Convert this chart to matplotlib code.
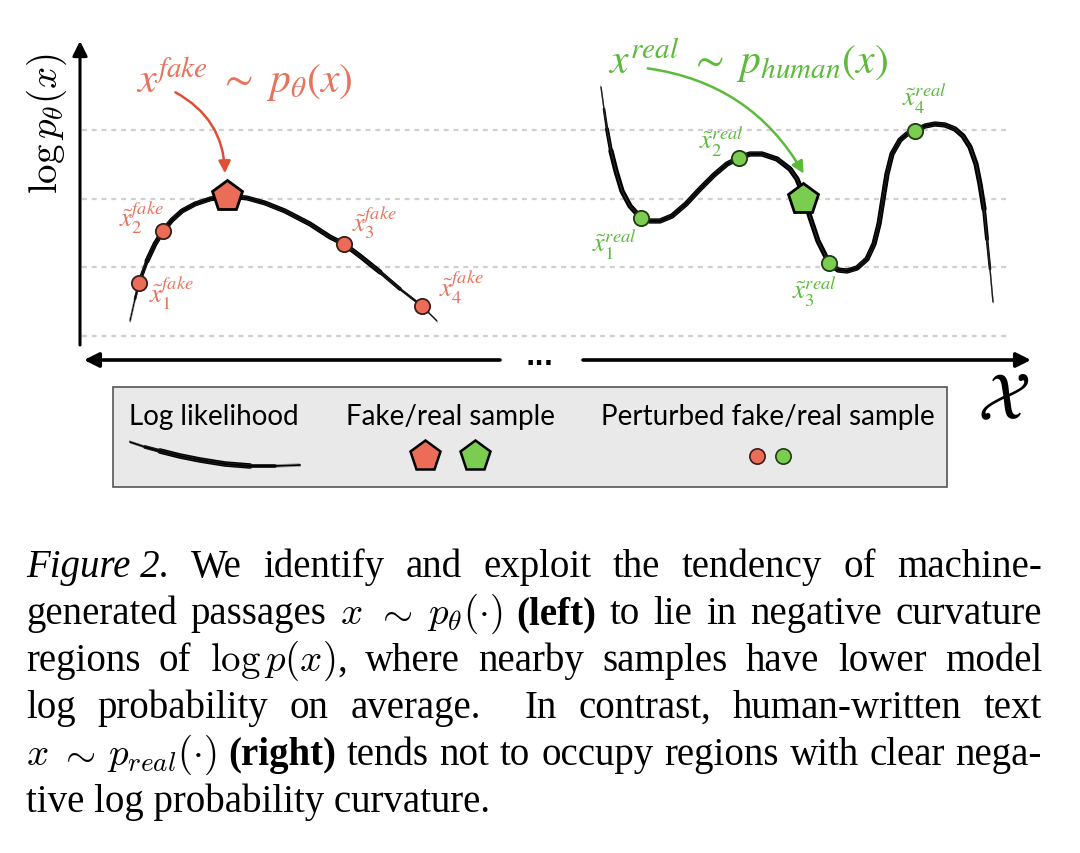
import numpy as np
import matplotlib.pyplot as plt
from matplotlib.patches import Rectangle, FancyArrowPatch

# Read values (figure pixel coordinates, y grows downward)
grid_y = [131, 200, 268, 337]

left_x = [130, 135, 139, 147, 155, 163, 172, 182, 195, 210, 227, 247, 265, 285,
          310, 330, 344, 360, 380, 400, 422, 437]
left_y = [322, 300, 284, 262, 245, 232, 221, 212, 205, 200, 197, 199, 204, 212,
          225, 238, 245, 257, 273, 290, 307, 322]

right_x = [601, 604, 607, 611, 616, 622, 630, 641, 650, 660, 672, 686, 700, 714,
           727, 739, 750, 762, 777, 790, 797, 803, 810, 818, 829, 838, 847, 857,
           867, 874, 879, 883, 887, 892, 900, 907, 915, 925, 935, 945, 955, 963,
           970, 976, 980, 984, 987, 990, 993]
right_y = [88, 110, 130, 152, 172, 192, 207, 219, 222, 222, 217, 205, 190, 176,
           165, 159, 155, 155, 160, 170, 180, 195, 218, 242, 264, 271, 272, 269,
           260, 245, 225, 200, 175, 155, 141, 135, 132, 127, 125, 126, 130, 137,
           148, 165, 185, 210, 240, 270, 303]

fake_pts_x = [139, 163, 344, 422]
fake_pts_y = [284, 232, 245, 307]
fake_sample = (227, 197)
real_pts_x = [641, 739, 829, 915]
real_pts_y = [219, 159, 264, 132]
real_sample = (803, 200)

fake_lbl_x = [149, 119, 352, 439]
fake_lbl_y = [303, 227, 232, 297]
real_lbl_x = [592, 699, 792, 902]
real_lbl_y = [253, 150, 300, 107]

legend_stroke_x = [130, 145, 160, 180, 200, 225, 250, 275, 300]
legend_stroke_y = [443, 448, 452, 457, 461, 465, 467, 467, 466]
legend_labels = ["Log likelihood", "Fake/real sample", "Perturbed fake/real sample"]
legend_label_x = [214, 451, 768]

caption = [
    "_Figure~2._ We identify and exploit the tendency of machine-",
    r"generated passages $x$ $\sim$ $p_\theta(\cdot)$ **(left)** to lie in negative curvature",
    r"regions of $\log{p}(x)$, where nearby samples have lower model",
    "log probability on average.  In contrast, human-written text",
    r"$x$ $\sim$ $p_{real}(\cdot)$ **(right)** tends not to occupy regions with clear nega-",
    "tive log probability curvature.",
]

FAKE = '#ec6d57'
FAKE_TXT = '#e8735d'
FAKE_ARROW = '#de4f38'
REAL = '#7bcd51'
REAL_TXT = '#5cba3b'
GRID = '#d0d0d0'

plt.rcParams['font.family'] = ['Liberation Serif', 'DejaVu Serif']

fig = plt.figure(figsize=(10.8, 8.54), dpi=100)
ax = fig.add_axes([0, 0, 1, 1])
ax.set_xlim(0, 1080)
ax.set_ylim(854, 0)
ax.axis('off')


def brush(xs, ys, lw=3.6, steps=4, z=3):
    # layered strokes: thin at the tips, full width in the body, plus scratchy offsets
    xs = np.asarray(xs, float)
    ys = np.asarray(ys, float)
    n = len(xs)
    kw = dict(color='black', solid_capstyle='round', solid_joinstyle='round', zorder=z)
    for k in range(steps):
        if n - 2 * k < 2:
            break
        ax.plot(xs[k:n - k], ys[k:n - k], lw=lw * (k + 1) / steps, **kw)
    for off in (-1.3, 1.3):
        ax.plot(xs + off * 0.4, ys + off, color='#444444', lw=0.5, alpha=0.55, zorder=z)


# gridlines
ax.hlines(grid_y, 82, 1007, colors=GRID, linestyles=(0, (2.2, 2.2)), lw=1.6, zorder=1)

# axes arrows
ax.annotate('', xy=(80, 42), xytext=(80, 346),
            arrowprops=dict(arrowstyle='-|>', color='black', lw=2.2,
                            mutation_scale=22, shrinkA=0, shrinkB=0))
ax.annotate('', xy=(84, 361), xytext=(500, 361),
            arrowprops=dict(arrowstyle='-|>', color='black', lw=2.6,
                            mutation_scale=22, shrinkA=0, shrinkB=0))
ax.annotate('', xy=(1031, 361), xytext=(583, 361),
            arrowprops=dict(arrowstyle='-|>', color='black', lw=2.6,
                            mutation_scale=22, shrinkA=0, shrinkB=0))
ax.text(540, 358, '...', ha='center', va='center', fontsize=18,
        fontweight='bold', family='DejaVu Sans')
ax.text(1004, 403, r'$\mathcal{X}$', ha='center', va='center', fontsize=48,
        math_fontfamily='stix')

ax.text(47, 124, r'$\log p_\theta(x)$', rotation=90, ha='center', va='center',
        fontsize=28, math_fontfamily='cm')

# curves
brush(left_x, left_y)
brush(right_x, right_y, lw=3.8)

# samples
ax.plot(fake_pts_x, fake_pts_y, 'o', ms=11, mfc=FAKE, mec='#3a1d18', mew=1.3, zorder=5)
ax.plot(real_pts_x, real_pts_y, 'o', ms=11, mfc=REAL, mec='#1f3a14', mew=1.3, zorder=5)
ax.plot(*fake_sample, 'p', ms=23, mfc=FAKE, mec='black', mew=2, zorder=6)
ax.plot(*real_sample, 'p', ms=23, mfc=REAL, mec='black', mew=2, zorder=6)

for i in range(4):
    ax.text(fake_lbl_x[i], fake_lbl_y[i], r'$\tilde{x}_{%d}^{fake}$' % (i + 1),
            color=FAKE_TXT, fontsize=19, math_fontfamily='stix', va='baseline')
    ax.text(real_lbl_x[i], real_lbl_y[i], r'$\tilde{x}_{%d}^{real}$' % (i + 1),
            color=REAL_TXT, fontsize=19, math_fontfamily='stix', va='baseline')

# titles and arrows
ax.text(136, 93, r'$x^{fake}\ \sim\ p_\theta(x)$', color=FAKE_TXT, fontsize=30,
        math_fontfamily='stix', va='baseline')
ax.text(608, 74, r'$x^{real}\ \sim\ p_{human}(x)$', color=REAL_TXT, fontsize=30,
        math_fontfamily='stix', va='baseline')
ax.add_patch(FancyArrowPatch((173, 92), (225, 177), connectionstyle='arc3,rad=-0.3',
                             arrowstyle='-|>', mutation_scale=18, lw=1.8, color=FAKE_ARROW))
ax.add_patch(FancyArrowPatch((645, 69), (805, 177), connectionstyle='arc3,rad=-0.25',
                             arrowstyle='-|>', mutation_scale=18, lw=1.8, color=REAL_TXT))

# legend
ax.add_patch(Rectangle((113, 388), 834, 100, facecolor='#e9e9e9', edgecolor='#555555',
                       lw=1.2, zorder=1))
for lbl, lx in zip(legend_labels, legend_label_x):
    ax.text(lx, 425, lbl, ha='center', va='baseline', fontsize=20, family='Lato')
brush(legend_stroke_x, legend_stroke_y, lw=4.0, steps=3)
ax.plot(425, 457, 'p', ms=23, mfc=FAKE, mec='black', mew=1.8, zorder=5)
ax.plot(475, 457, 'p', ms=23, mfc=REAL, mec='black', mew=1.8, zorder=5)
ax.plot(757, 457, 'o', ms=11, mfc=FAKE, mec='#3a1d18', mew=1.2, zorder=5)
ax.plot(783, 457, 'o', ms=11, mfc=REAL, mec='#1f3a14', mew=1.2, zorder=5)

# caption, justified
CAP_FS = 28
CAP_L, CAP_R = 26, 1042
renderer = fig.canvas.get_renderer()


def cap_token(s, x, y):
    kw = dict(fontsize=CAP_FS, va='baseline', ha='left', color='black',
              math_fontfamily='cm')
    if s.startswith('**'):
        kw['fontweight'] = 'bold'
        s = s.strip('*')
    elif s.startswith('_'):
        kw['fontstyle'] = 'italic'
        s = s.strip('_').replace('~', ' ')
    return ax.text(x, y, s, **kw)


for i, line in enumerate(caption):
    y = 577 + 47 * i
    if i == len(caption) - 1:
        cap_token(line, CAP_L, y)
        continue
    toks = [cap_token(w, 0, y) for w in line.split(' ')]
    widths = [t.get_window_extent(renderer).width for t in toks]
    gap = (CAP_R - CAP_L - sum(widths)) / (len(toks) - 1)
    x = CAP_L
    for t, w in zip(toks, widths):
        t.set_x(x)
        x += w + gap

fig.savefig('out.png', dpi=100)
